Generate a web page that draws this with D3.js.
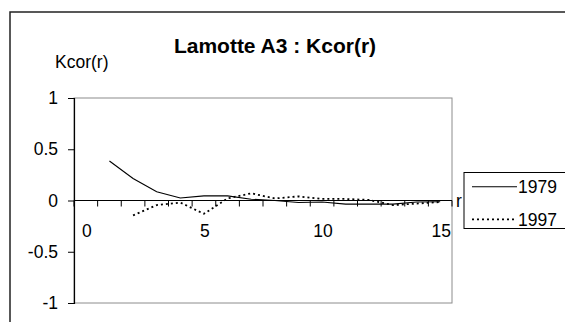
<!DOCTYPE html>
<html>
<head>
<meta charset="utf-8">
<script src="https://cdn.jsdelivr.net/npm/d3@7"></script>
<style>
  html, body { margin: 0; padding: 0; background: #fff; }
  svg { display: block; font-family: Arial, "Liberation Sans", sans-serif; }
</style>
</head>
<body>
<script>
const categories = [0, 1, 2, 3, 4, 5, 6, 7, 8, 9, 10, 11, 12, 13, 14, 15];
const xTickLabels = [0, 5, 10, 15];
const yTicks = [-1, -0.5, 0, 0.5, 1];
const series1979 = [null, 0.385, 0.215, 0.085, 0.025, 0.045, 0.045, 0.012, 0.0, -0.02, -0.015, -0.035, -0.035, -0.035, -0.015, -0.012];
const series1997 = [null, null, -0.145, -0.045, -0.02, -0.13, 0.02, 0.07, 0.02, 0.04, 0.015, 0.015, 0.005, -0.045, -0.03, -0.015];
const seriesNames = ["1979", "1997"];
const title = "Lamotte A3 : Kcor(r)";
const yTitle = "Kcor(r)";
const xTitle = "r";

const W = 565, H = 322;
const FS = 17.5;
const svg = d3.select("body").append("svg").attr("width", W).attr("height", H);

// outer chart border
svg.append("rect").attr("x", 10).attr("y", 12).attr("width", 620).attr("height", 400)
  .attr("fill", "none").attr("stroke", "#222").attr("stroke-width", 1.5);

const plot = { left: 74, right: 452, top: 98, bottom: 303 };
const x = d3.scaleBand().domain(categories).range([plot.left, plot.right]).padding(0);
const y = d3.scaleLinear().domain([-1, 1]).range([plot.bottom, plot.top]);

// plot area border
svg.append("rect").attr("x", plot.left).attr("y", plot.top)
  .attr("width", plot.right - plot.left).attr("height", plot.bottom - plot.top)
  .attr("fill", "none").attr("stroke", "#8c8c8c").attr("stroke-width", 1);

// y axis
const yAxis = d3.axisLeft(y).tickValues(yTicks).tickSize(6).tickPadding(10)
  .tickFormat(d => String(d));
const gy = svg.append("g").attr("transform", `translate(${plot.left},0)`).call(yAxis);
gy.select(".domain").attr("stroke", "#000").attr("stroke-width", 1.2);
gy.selectAll(".tick line").attr("stroke", "#000");
gy.selectAll(".tick text").attr("font-size", FS).attr("fill", "#000")
  .attr("font-family", "Arial, 'Liberation Sans', sans-serif");

// x axis at zero (ticks at category boundaries)
const boundaries = categories.map(c => x(c)).concat([plot.right]);
const gx = svg.append("g");
gx.append("line").attr("x1", plot.left).attr("x2", plot.right)
  .attr("y1", y(0)).attr("y2", y(0)).attr("stroke", "#000").attr("stroke-width", 1.2);
gx.selectAll("line.tk").data(boundaries).join("line").attr("class", "tk")
  .attr("x1", d => d).attr("x2", d => d).attr("y1", y(0)).attr("y2", y(0) + 6)
  .attr("stroke", "#000");
gx.selectAll("text").data(xTickLabels).join("text")
  .attr("x", d => x(d) + x.bandwidth() / 2 + 1)
  .attr("y", y(0) + 36)
  .attr("text-anchor", "middle").attr("font-size", FS).text(d => d);

svg.append("text").attr("x", 456).attr("y", y(0) + 6).attr("font-size", FS).text(xTitle);

// lines
const line = d3.line()
  .defined(d => d.v !== null)
  .x(d => x(d.c) + x.bandwidth() / 2)
  .y(d => y(d.v));
const data1979 = categories.map((c, i) => ({ c, v: series1979[i] }));
const data1997 = categories.map((c, i) => ({ c, v: series1997[i] }));
svg.append("path").datum(data1979).attr("d", line)
  .attr("fill", "none").attr("stroke", "#000").attr("stroke-width", 1.1);
svg.append("path").datum(data1997).attr("d", line)
  .attr("fill", "none").attr("stroke", "#000").attr("stroke-width", 1.8)
  .attr("stroke-dasharray", "2,3");

// titles
svg.append("text").attr("x", 275).attr("y", 53).attr("text-anchor", "middle")
  .attr("font-size", 21).attr("font-weight", "bold").text(title);
svg.append("text").attr("x", 55).attr("y", 68).attr("font-size", FS).text(yTitle);

// legend
const lg = svg.append("g");
lg.append("rect").attr("x", 464).attr("y", 172.5).attr("width", 200).attr("height", 56)
  .attr("fill", "#fff").attr("stroke", "#000").attr("stroke-width", 1);
const legendY = [186.7, 219.3];
const dashes = [null, "2,3"];
const widths = [1.1, 1.8];
seriesNames.forEach((n, i) => {
  lg.append("line").attr("x1", 472).attr("x2", 517).attr("y1", legendY[i]).attr("y2", legendY[i])
    .attr("stroke", "#000").attr("stroke-width", widths[i]).attr("stroke-dasharray", dashes[i]);
  lg.append("text").attr("x", 518).attr("y", legendY[i] + 6.5).attr("font-size", FS).text(n);
});
</script>
</body>
</html>
